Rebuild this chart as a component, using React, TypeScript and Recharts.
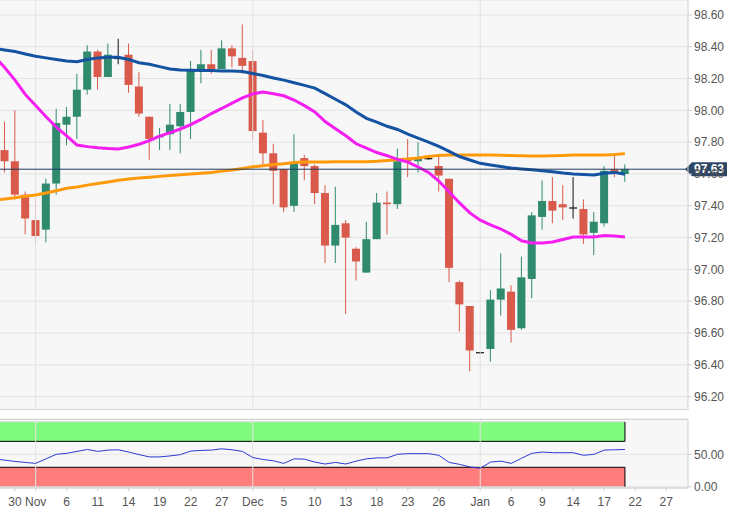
import React from 'react';
import {
  ComposedChart, Bar, Line, XAxis, YAxis, CartesianGrid, ReferenceLine, ReferenceArea,
} from 'recharts';

// trading days (first one only feeds the averages at the left edge)
const dates = [
  'Oct 28', 'Oct 29', 'Oct 30', 'Oct 31', 'Nov 1', 'Nov 4', 'Nov 5', 'Nov 6', 'Nov 7', 'Nov 8',
  'Nov 11', 'Nov 12', 'Nov 13', 'Nov 14', 'Nov 15', 'Nov 18', 'Nov 19', 'Nov 20', 'Nov 21', 'Nov 22',
  'Nov 25', 'Nov 26', 'Nov 27', 'Nov 28', 'Nov 29', 'Dec 2', 'Dec 3', 'Dec 4', 'Dec 5', 'Dec 6',
  'Dec 9', 'Dec 10', 'Dec 11', 'Dec 12', 'Dec 13', 'Dec 16', 'Dec 17', 'Dec 18', 'Dec 19', 'Dec 20',
  'Dec 23', 'Dec 24', 'Dec 25', 'Dec 26', 'Dec 27', 'Dec 30', 'Dec 31', 'Jan 1', 'Jan 2', 'Jan 3',
  'Jan 6', 'Jan 7', 'Jan 8', 'Jan 9', 'Jan 10', 'Jan 13', 'Jan 14', 'Jan 15', 'Jan 16', 'Jan 17',
  'Jan 20', 'Jan 21',
];
const futureDates = ['Jan 22', 'Jan 23', 'Jan 24', 'Jan 27', 'Jan 28', 'Jan 29'];

const opens = [
  null, 97.75, 97.68, 97.47, 97.31, 97.25, 97.54, 97.91, 97.96, 98.13,
  98.37, 98.21, 98.33, 98.35, 98.15, 97.96, 97.83, 97.85, 97.90, 97.99,
  98.26, 98.29, 98.26, 98.39, 98.33, 98.31, 97.86, 97.73, 97.63, 97.40,
  97.70, 97.65, 97.48, 97.15, 97.29, 97.13, 96.98, 97.19, 97.42, 97.41,
  97.70, 97.68, 97.70, 97.65, 97.57, 96.92, 96.77, 96.48, 96.50, 96.81,
  96.86, 96.63, 96.94, 97.33, 97.43, 97.41, 97.39, 97.38, 97.23, 97.29,
  97.63, 97.60,
];
const highs = [
  null, 97.93, 98.00, 97.49, 97.45, 97.57, 98.01, 98.02, 98.23, 98.41,
  98.38, 98.42, 98.45, 98.42, 98.24, 97.96, 97.89, 98.04, 98.04, 98.31,
  98.38, 98.38, 98.44, 98.41, 98.54, 98.38, 97.94, 97.79, 97.63, 97.85,
  97.72, 97.66, 97.53, 97.52, 97.31, 97.14, 97.30, 97.48, 97.49, 97.76,
  97.82, 97.80, 97.70, 97.71, 97.57, 96.93, 96.77, 96.48, 96.87, 97.10,
  96.90, 97.08, 97.36, 97.56, 97.58, 97.53, 97.58, 97.44, 97.36, 97.65,
  97.72, 97.66,
];
const lows = [
  null, 97.61, 97.44, 97.22, 97.16, 97.17, 97.47, 97.78, 97.82, 98.10,
  98.13, 98.21, 98.29, 98.11, 97.96, 97.69, 97.75, 97.75, 97.73, 97.82,
  98.17, 98.23, 98.26, 98.27, 98.23, 97.81, 97.66, 97.41, 97.36, 97.36,
  97.56, 97.41, 97.04, 97.04, 96.72, 96.93, 96.98, 97.19, 97.22, 97.38,
  97.58, 97.61, 97.69, 97.49, 96.92, 96.61, 96.36, 96.47, 96.42, 96.71,
  96.54, 96.62, 96.82, 97.25, 97.29, 97.31, 97.32, 97.16, 97.09, 97.27,
  97.58, 97.55,
];
const closes = [
  null, 97.68, 97.47, 97.32, 97.21, 97.54, 97.92, 97.96, 98.13, 98.37,
  98.21, 98.35, 98.33, 98.16, 97.98, 97.82, 97.84, 97.91, 97.99, 98.25,
  98.29, 98.26, 98.39, 98.34, 98.28, 97.87, 97.73, 97.62, 97.39, 97.67,
  97.65, 97.48, 97.15, 97.28, 97.20, 97.05, 97.19, 97.42, 97.41, 97.68,
  97.68, 97.70, 97.70, 97.59, 97.01, 96.78, 96.49, 96.48, 96.81, 96.88,
  96.62, 96.95, 97.34, 97.43, 97.37, 97.39, 97.39, 97.22, 97.30, 97.62,
  97.60, 97.63,
];
const sma20 = [
  98.34, 98.27, 98.19, 98.10, 98.03, 97.96, 97.895, 97.84, 97.782, 97.772,
  97.765, 97.76, 97.757, 97.77, 97.787, 97.81, 97.838, 97.86, 97.883, 97.91,
  97.943, 97.98, 98.012, 98.046, 98.078, 98.104, 98.116, 98.105, 98.092, 98.065,
  98.03, 97.99, 97.93, 97.885, 97.84, 97.79, 97.763, 97.735, 97.715, 97.692,
  97.675, 97.644, 97.61, 97.556, 97.487, 97.418, 97.355, 97.31, 97.28, 97.254,
  97.22, 97.18, 97.166, 97.166, 97.172, 97.188, 97.204, 97.204, 97.204, 97.213,
  97.21, 97.204,
];
const sma100 = [
  98.39, 98.38, 98.37, 98.355, 98.34, 98.33, 98.32, 98.31, 98.306, 98.32,
  98.33, 98.334, 98.334, 98.32, 98.30, 98.29, 98.275, 98.26, 98.254, 98.252,
  98.25, 98.25, 98.248, 98.248, 98.245, 98.232, 98.219, 98.204, 98.19, 98.174,
  98.157, 98.14, 98.105, 98.07, 98.035, 97.99, 97.95, 97.926, 97.90, 97.88,
  97.85, 97.825, 97.80, 97.774, 97.742, 97.71, 97.688, 97.667, 97.657, 97.647,
  97.637, 97.632, 97.626, 97.62, 97.614, 97.606, 97.60, 97.597, 97.594, 97.605,
  97.61, 97.598,
];
const sma200 = [
  97.435, 97.443, 97.45, 97.46, 97.468, 97.48, 97.495, 97.51, 97.518, 97.53,
  97.54, 97.55, 97.56, 97.568, 97.575, 97.58, 97.585, 97.59, 97.595, 97.60,
  97.605, 97.61, 97.618, 97.625, 97.635, 97.645, 97.652, 97.66, 97.665, 97.672,
  97.675, 97.675, 97.676, 97.677, 97.677, 97.677, 97.677, 97.68, 97.685, 97.69,
  97.695, 97.70, 97.71, 97.717, 97.72, 97.72, 97.72, 97.72, 97.72, 97.718,
  97.716, 97.714, 97.713, 97.713, 97.715, 97.717, 97.719, 97.72, 97.72, 97.72,
  97.722, 97.728,
];
const rsi = [
  43, 41, 39, 37.5, 36, 43, 50, 51.5, 54.5, 57.5,
  54.5, 56.5, 57, 53.5, 49.5, 46, 46, 47.5, 49.5, 55,
  56, 56.5, 58.5, 57, 54.5, 45, 42, 40, 36, 43,
  42.5, 38, 35, 37.5, 35, 39.5, 43, 44.5, 44.5, 50,
  51, 51, 51, 48.5, 37.5, 34.5, 30.5, 28.5, 38, 39.5,
  36, 44, 51.5, 53.5, 52.5, 52.5, 52.5, 48.5, 50, 56.5,
  57, 57.5,
];

const tickDates = [
  'Oct 30', 'Nov 1', 'Nov 6', 'Nov 11', 'Nov 14', 'Nov 19', 'Nov 22', 'Nov 27', 'Dec 2', 'Dec 5',
  'Dec 10', 'Dec 13', 'Dec 18', 'Dec 23', 'Dec 26', 'Jan 1', 'Jan 6', 'Jan 9', 'Jan 14', 'Jan 17',
  'Jan 22', 'Jan 27',
];
const tickLabels = [
  '30', 'Nov', '6', '11', '14', '19', '22', '27', 'Dec', '5',
  '10', '13', '18', '23', '26', 'Jan', '6', '9', '14', '17',
  '22', '27',
];
const priceTicks = [96.2, 96.4, 96.6, 96.8, 97.0, 97.2, 97.4, 97.6, 97.8, 98.0, 98.2, 98.4, 98.6];
const rsiTicks = [0, 50];
const rsiBands = [
  { from: 70, to: 100, color: '#80fb7e', side: 'bottom' },
  { from: 0, to: 30, color: '#ff7d7d', side: 'top' },
];

const GREEN = '#2f8a6e';
const RED = '#d95a4a';
const FONT = '"Liberation Sans", Arial, sans-serif';

const axisDates = dates.concat(futureDates);
const idxOf = (d: string) => axisDates.indexOf(d) - 1;

const rows = dates.map((d, k) => ({
  i: k - 1,
  date: d,
  open: opens[k],
  high: highs[k],
  low: lows[k],
  close: closes[k],
  range: lows[k] == null ? null : [lows[k], highs[k]],
  sma20: sma20[k],
  sma100: sma100[k],
  sma200: sma200[k],
  rsi: rsi[k],
}));

const xTicks = tickDates.map(idxOf);
const monthStarts = tickDates.filter((_, j) => isNaN(Number(tickLabels[j]))).map(idxOf);
const lastIdx = rows[rows.length - 1].i;
const lastClose = closes[closes.length - 1] as number;
const xDomain = [-0.45, 66.1];

function Candle(props: any) {
  const { x, y, width, height, payload } = props;
  if (!payload || payload.open == null) return null;
  const { open, close, high, low } = payload;
  const top = Math.min(y, y + height);
  const h = Math.abs(height);
  const span = high - low;
  const py = (v: number) => (span > 0 ? top + ((high - v) / span) * h : top);
  const color = close > open ? GREEN : close < open ? RED : '#111';
  const cx = x + width / 2;
  const bTop = py(Math.max(open, close));
  const bBot = py(Math.min(open, close));
  return (
    <g>
      <line x1={cx} x2={cx} y1={top} y2={top + h} stroke={color} strokeWidth={1} />
      <rect x={x} y={bTop} width={width} height={Math.max(bBot - bTop, 1.2)} fill={color} />
    </g>
  );
}

function PriceTag(props: any) {
  const { viewBox } = props;
  if (!viewBox) return null;
  const x0 = viewBox.x + viewBox.width;
  const y = viewBox.y;
  return (
    <g>
      <polygon
        points={`${x0 - 3},${y} ${x0 + 4},${y - 7} ${x0 + 39},${y - 7} ${x0 + 39},${y + 7} ${x0 + 4},${y + 7}`}
        fill="#2c4666"
      />
      <text x={x0 + 21} y={y + 4} textAnchor="middle" fill="#fff" fontSize={12} fontWeight="bold" fontFamily={FONT}>
        {lastClose.toFixed(2)}
      </text>
    </g>
  );
}

function Band(props: any) {
  const { x, y, width, height, side, color } = props;
  const bx = x + width;
  const by = side === 'bottom' ? y + height : y;
  const ty = side === 'bottom' ? y : y + height;
  return (
    <g>
      <rect x={x} y={y} width={width} height={height} fill={color} />
      <path d={`M${x},${ty} L${bx},${ty}`} stroke="#cfd8cf" strokeWidth={1} fill="none" />
      <path d={`M${x},${by} L${bx},${by} M${bx},${y} L${bx},${y + height}`} stroke="#000" strokeWidth={1} fill="none" />
    </g>
  );
}

const tickStyle = { fontSize: 12, fill: '#555', fontFamily: FONT };

export default function App() {
  return (
    <div style={{ position: 'absolute', left: 0, top: 0, width: 737, height: 525, background: '#fff', fontFamily: FONT }}>
      <div style={{ position: 'absolute', left: 0, top: 0 }}>
        <ComposedChart width={737} height={410} data={rows} margin={{ top: 0, right: 0, bottom: 0, left: 0 }}>
          <CartesianGrid vertical={false} stroke="#e3e3e3" fill="#f7f7f7" />
          <XAxis dataKey="i" type="number" domain={xDomain} allowDataOverflow hide />
          <YAxis
            orientation="right"
            width={49}
            domain={[96.116, 98.694]}
            allowDataOverflow
            ticks={priceTicks}
            interval={0}
            tickFormatter={(v: number) => v.toFixed(2)}
            tick={tickStyle}
            tickSize={4}
            tickMargin={2}
            stroke="#cfcfcf"
          />
          {monthStarts.map((m) => (
            <ReferenceLine key={m} x={m} stroke="#e3e3e3" />
          ))}
          <Bar dataKey="range" barSize={8} shape={<Candle />} isAnimationActive={false} />
          <Line dataKey="sma200" stroke="#ff9a0d" strokeWidth={3} dot={false} activeDot={false} isAnimationActive={false} />
          <Line dataKey="sma100" stroke="#1452a2" strokeWidth={3} dot={false} activeDot={false} isAnimationActive={false} />
          <Line dataKey="sma20" stroke="#f41ef0" strokeWidth={3} dot={false} activeDot={false} isAnimationActive={false} />
          <ReferenceLine y={lastClose} stroke="#1e3a5e" strokeWidth={1} label={<PriceTag />} />
        </ComposedChart>
      </div>
      <div style={{ position: 'absolute', left: 0, top: 409, width: 688, height: 1, background: '#d6d6d6' }} />
      <div style={{ position: 'absolute', left: 0, top: 412 }}>
        <ComposedChart width={737} height={113} data={rows} margin={{ top: 7, right: 0, bottom: 0, left: 0 }}>
          <CartesianGrid vertical={false} stroke="#e3e3e3" fill="#f7f7f7" />
          <XAxis
            dataKey="i"
            type="number"
            domain={xDomain}
            allowDataOverflow
            ticks={xTicks}
            interval={0}
            tickFormatter={(v: number) => tickLabels[xTicks.indexOf(v)] ?? ''}
            tick={tickStyle}
            tickSize={3}
            tickMargin={6}
            height={37}
            stroke="#d0d0d0"
          />
          <YAxis
            orientation="right"
            width={49}
            domain={[-2, 104.5]}
            allowDataOverflow
            ticks={rsiTicks}
            interval={0}
            tickFormatter={(v: number) => v.toFixed(2)}
            tick={tickStyle}
            tickSize={4}
            tickMargin={2}
            stroke="#cfcfcf"
          />
          {monthStarts.map((m) => (
            <ReferenceLine key={m} x={m} stroke="#e3e3e3" />
          ))}
          {rsiBands.map((b) => (
            <ReferenceArea
              key={b.side}
              x1={xDomain[0]}
              x2={lastIdx}
              y1={b.from}
              y2={b.to}
              fillOpacity={1}
              shape={<Band side={b.side} color={b.color} />}
            />
          ))}
          <Line dataKey="rsi" stroke="#2a3bd0" strokeWidth={1} dot={false} activeDot={false} isAnimationActive={false} />
        </ComposedChart>
      </div>
      <div style={{ position: 'absolute', left: 0, top: 419, width: 688, height: 1, background: '#d6d6d6' }} />
    </div>
  );
}
